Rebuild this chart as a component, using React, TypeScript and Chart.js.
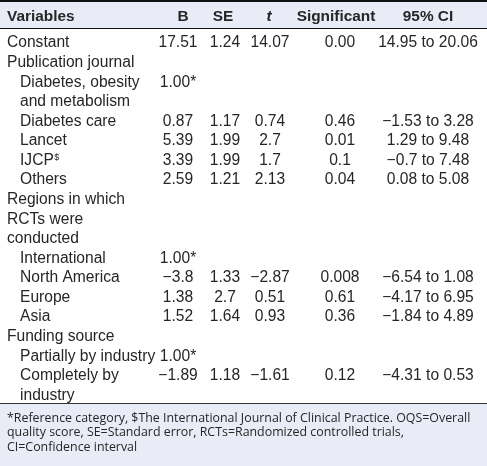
import React, { useEffect, useRef } from "react";
import { Chart, registerables } from "chart.js";

Chart.register(...registerables);

// ---- data ----
const HEADERS = ["Variables", "B", "SE", "t", "Significant", "95% CI"];
const VARIABLES: string[][] = [
  ["Constant"],
  ["Publication journal"],
  ["Diabetes, obesity", "and metabolism"],
  ["Diabetes care"],
  ["Lancet"],
  ["IJCP$"],
  ["Others"],
  ["Regions in which", "RCTs were", "conducted"],
  ["International"],
  ["North America"],
  ["Europe"],
  ["Asia"],
  ["Funding source"],
  ["Partially by industry"],
  ["Completely by", "industry"],
];
const LEVELS = [0, 0, 1, 1, 1, 1, 1, 0, 1, 1, 1, 1, 0, 1, 1];
const B_VALUES = ["17.51", null, "1.00*", "0.87", "5.39", "3.39", "2.59", null, "1.00*", "−3.8", "1.38", "1.52", null, "1.00*", "−1.89"];
const SE_VALUES = ["1.24", null, null, "1.17", "1.99", "1.99", "1.21", null, null, "1.33", "2.7", "1.64", null, null, "1.18"];
const T_VALUES = ["14.07", null, null, "0.74", "2.7", "1.7", "2.13", null, null, "−2.87", "0.51", "0.93", null, null, "−1.61"];
const SIG_VALUES = ["0.00", null, null, "0.46", "0.01", "0.1", "0.04", null, null, "0.008", "0.61", "0.36", null, null, "0.12"];
const CI_VALUES = ["14.95 to 20.06", null, null, "−1.53 to 3.28", "1.29 to 9.48", "−0.7 to 7.48", "0.08 to 5.08", null, null, "−6.54 to 1.08", "−4.17 to 6.95", "−1.84 to 4.89", null, null, "−4.31 to 0.53"];
const FOOTNOTE = [
  "*Reference category, $The International Journal of Clinical Practice. OQS=Overall",
  "quality score, SE=Standard error, RCTs=Randomized controlled trials,",
  "CI=Confidence interval",
];

// ---- layout ----
const W = 487;
const H = 466;
const HEADER_H = 32;
const FOOT_H = 62;
const LABEL_X = 7;
const INDENT = 13;
const COL_X = [178, 225, 270, 340, 428];
const HEAD_X = [183, 223, 269, 336, 428];
const FONT = "15.6px 'Liberation Sans', Arial, sans-serif";
const BOLD = "bold 15.4px 'Liberation Sans', Arial, sans-serif";
const TEXT = "#262626";
const BAND = "#e9ecf7";

export default function App() {
  const ref = useRef<HTMLCanvasElement>(null);
  useEffect(() => {
    if (!ref.current) return;
    const lineStart: number[] = [];
    let n = 0;
    VARIABLES.forEach((v) => {
      lineStart.push(n);
      n += v.length;
    });
    const labelPts: any[] = [];
    VARIABLES.forEach((lines, r) =>
      lines.forEach((t, k) =>
        labelPts.push({ x: LABEL_X + LEVELS[r] * INDENT, y: lineStart[r] + k, text: t })
      )
    );
    const cols = [B_VALUES, SE_VALUES, T_VALUES, SIG_VALUES, CI_VALUES];
    const datasets: any[] = [
      { label: "Variables", data: labelPts, align: "left", pointRadius: 0 },
      ...cols.map((vals, c) => ({
        label: HEADERS[c + 1],
        data: vals
          .map((v, r) => (v == null ? null : { x: COL_X[c], y: lineStart[r], text: v }))
          .filter((p) => p),
        align: "center",
        pointRadius: 0,
      })),
    ];

    const tablePlugin = {
      id: "tableText",
      beforeDatasetsDraw(chart: any) {
        const { ctx, chartArea, scales } = chart;
        ctx.save();
        ctx.fillStyle = BAND;
        ctx.fillRect(0, 0, W, chartArea.top - 3);
        ctx.fillStyle = "#111";
        ctx.fillRect(0, 0, W, 2);
        ctx.fillRect(0, chartArea.top - 4, W, 1);
        ctx.fillStyle = BAND;
        ctx.fillRect(0, chartArea.bottom, W, H - chartArea.bottom);
        ctx.fillStyle = "#333";
        ctx.fillRect(0, chartArea.bottom - 1, W, 1);
        ctx.fillStyle = TEXT;
        ctx.textBaseline = "alphabetic";
        HEADERS.forEach((h, i) => {
          const italic = h === "t";
          ctx.font = (italic ? "italic " : "") + BOLD;
          if (i === 0) {
            ctx.textAlign = "left";
            ctx.fillText(h, scales.x.getPixelForValue(LABEL_X), 20.5);
          } else {
            ctx.textAlign = "center";
            ctx.fillText(h, scales.x.getPixelForValue(HEAD_X[i - 1]), 20.5);
          }
        });
        ctx.font = "12.4px 'Open Sans', sans-serif";
        ctx.textAlign = "left";
        FOOTNOTE.forEach((line, i) => {
          ctx.fillText(line, 7, chartArea.bottom + 18 + i * 14.3);
        });
        ctx.restore();
      },
      afterDatasetsDraw(chart: any) {
        const { ctx } = chart;
        ctx.save();
        ctx.fillStyle = TEXT;
        ctx.font = FONT;
        ctx.textBaseline = "alphabetic";
        chart.data.datasets.forEach((ds: any, di: number) => {
          const meta = chart.getDatasetMeta(di);
          ctx.textAlign = ds.align;
          meta.data.forEach((el: any, j: number) => {
            const text: string = ds.data[j].text;
            const y = el.y + 5.6;
            if (text.endsWith("$")) {
              ctx.textAlign = "left";
              const base = text.slice(0, -1);
              ctx.font = FONT;
              ctx.fillText(base, el.x, y);
              const w = ctx.measureText(base).width;
              ctx.font = "9px 'Liberation Sans', Arial, sans-serif";
              ctx.fillText("$", el.x + w + 0.5, y - 5);
              ctx.font = FONT;
              ctx.textAlign = ds.align;
            } else {
              ctx.fillText(text, el.x, y);
            }
          });
        });
        ctx.restore();
      },
    };

    const chart = new Chart(ref.current, {
      type: "scatter",
      data: { datasets },
      options: {
        animation: false,
        responsive: false,
        events: [],
        layout: { padding: { top: HEADER_H, bottom: FOOT_H, left: 0, right: 0 } },
        plugins: { legend: { display: false }, tooltip: { enabled: false } },
        scales: {
          x: { type: "linear", min: 0, max: W, display: false },
          y: { type: "linear", min: -0.5, max: n - 0.5, reverse: true, display: false },
        },
      },
      plugins: [tablePlugin],
    });
    return () => chart.destroy();
  }, []);
  return (
    <div style={{ position: "fixed", left: 0, top: 0, width: W, height: H, background: "#fff" }}>
      <canvas ref={ref} width={W} height={H} style={{ display: "block" }} />
    </div>
  );
}
